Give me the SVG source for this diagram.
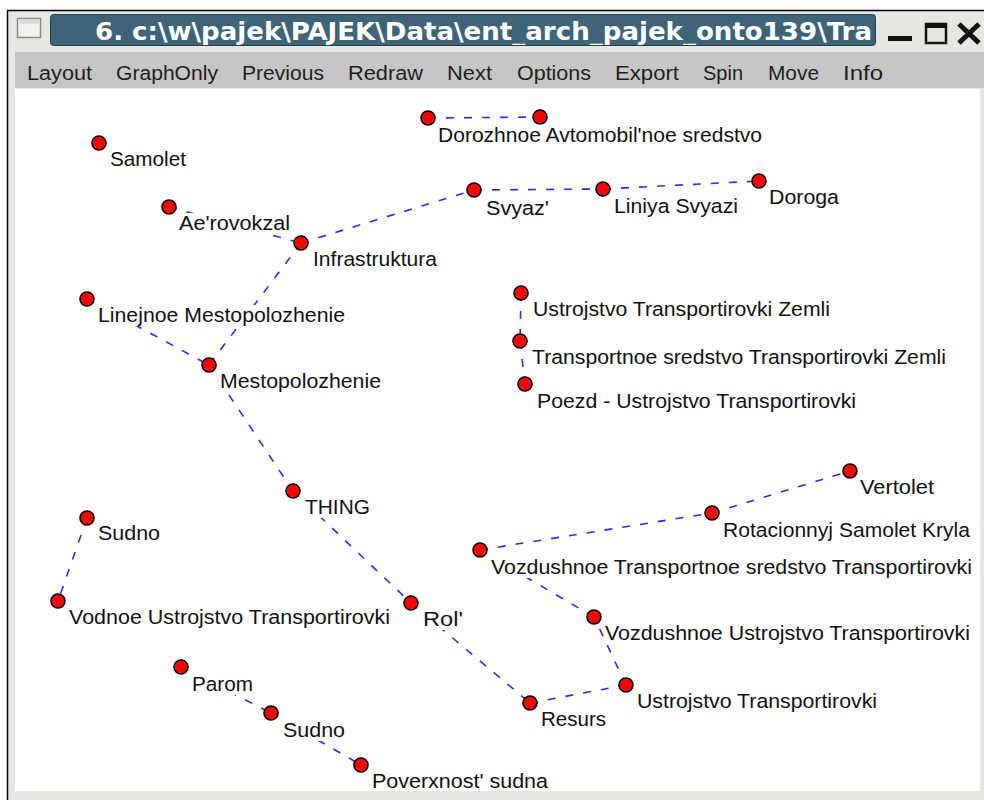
<svg xmlns="http://www.w3.org/2000/svg" width="984" height="800" viewBox="0 0 984 800">
  <style>
    .edge { stroke: #2a2aff; stroke-width: 1.6; stroke-dasharray: 8 10; fill: none; }
    .node { fill: #ff0000; stroke: #000; stroke-width: 1.6; }
    .lbg { fill: #ffffff; }
    .lbl { font-family: "Liberation Sans", Arial, sans-serif; font-size: 20.5px; fill: #111; }
    .menu { font-family: "Liberation Sans", Arial, sans-serif; font-size: 20px; fill: #1e1e1e; }
    .title { font-family: "DejaVu Sans", "Liberation Sans", sans-serif; font-size: 25px; font-weight: bold; fill: #ffffff; }
  </style>
  <defs>
    <clipPath id="titleClip"><rect x="52" y="15" width="822" height="30"/></clipPath>
  </defs>

  <!-- window frame -->
  <rect x="0" y="0" width="984" height="800" fill="#ffffff"/>
  <rect x="8" y="11" width="976" height="789" fill="#e6e6e2"/>
  <line x1="7" y1="10.5" x2="984" y2="10.5" stroke="#000" stroke-width="1.5"/>
  <line x1="7.5" y1="10" x2="7.5" y2="800" stroke="#000" stroke-width="1.5"/>

  <!-- title bar -->
  <g id="titlebar">
    <rect x="17.5" y="18.5" width="23" height="19" fill="#f0f0ee" stroke="#8a8a88" stroke-width="1.5"/>
    <rect x="18.5" y="19.5" width="21" height="4" fill="#d8d8d6"/>
    <rect x="50.5" y="14.5" width="825" height="31" rx="3" fill="#3d6479" stroke="#25404e" stroke-width="1"/>
    <text class="title" x="95" y="40" textLength="777" lengthAdjust="spacingAndGlyphs" clip-path="url(#titleClip)">6. c:\w\pajek\PAJEK\Data\ent_arch_pajek_onto139\Tra</text>
    <rect x="888" y="36" width="24" height="5" fill="#111"/>
    <rect x="926" y="24" width="20" height="19" fill="none" stroke="#111" stroke-width="2.5"/>
    <rect x="926" y="24" width="20" height="4" fill="#111"/>
    <path d="M959 24 L979 43 M979 24 L959 43" stroke="#111" stroke-width="5"/>
  </g>

  <!-- menu bar -->
  <g id="menubar">
    <rect x="15" y="52" width="969" height="36" fill="#c6c6c6"/>
    <text class="menu" x="27" y="80" textLength="65" lengthAdjust="spacingAndGlyphs">Layout</text>
    <text class="menu" x="116" y="80" textLength="102" lengthAdjust="spacingAndGlyphs">GraphOnly</text>
    <text class="menu" x="242" y="80" textLength="82" lengthAdjust="spacingAndGlyphs">Previous</text>
    <text class="menu" x="348" y="80" textLength="75" lengthAdjust="spacingAndGlyphs">Redraw</text>
    <text class="menu" x="447" y="80" textLength="45" lengthAdjust="spacingAndGlyphs">Next</text>
    <text class="menu" x="517" y="80" textLength="74" lengthAdjust="spacingAndGlyphs">Options</text>
    <text class="menu" x="615" y="80" textLength="64" lengthAdjust="spacingAndGlyphs">Export</text>
    <text class="menu" x="703" y="80" textLength="40" lengthAdjust="spacingAndGlyphs">Spin</text>
    <text class="menu" x="768" y="80" textLength="51" lengthAdjust="spacingAndGlyphs">Move</text>
    <text class="menu" x="843" y="80" textLength="40" lengthAdjust="spacingAndGlyphs">Info</text>
  </g>

  <!-- drawing canvas -->
  <rect x="15" y="89" width="965" height="702" fill="#ffffff"/>

  <!-- connectors -->
  <g id="edges">
    <line class="edge" x1="428" y1="118" x2="540" y2="117"/>
    <line class="edge" x1="474" y1="190" x2="603" y2="189"/>
    <line class="edge" x1="603" y1="189" x2="759" y2="181"/>
    <line class="edge" x1="301" y1="243" x2="474" y2="190"/>
    <line class="edge" x1="169" y1="207" x2="301" y2="243"/>
    <line class="edge" x1="301" y1="243" x2="209" y2="365"/>
    <line class="edge" x1="87" y1="299" x2="209" y2="365"/>
    <line class="edge" x1="209" y1="365" x2="293" y2="491"/>
    <line class="edge" x1="293" y1="491" x2="411" y2="603"/>
    <line class="edge" x1="411" y1="603" x2="530" y2="703"/>
    <line class="edge" x1="530" y1="703" x2="626" y2="685"/>
    <line class="edge" x1="626" y1="685" x2="594" y2="617"/>
    <line class="edge" x1="594" y1="617" x2="480" y2="550"/>
    <line class="edge" x1="480" y1="550" x2="712" y2="513"/>
    <line class="edge" x1="712" y1="513" x2="850" y2="471"/>
    <line class="edge" x1="521" y1="293" x2="520" y2="341"/>
    <line class="edge" x1="520" y1="341" x2="525" y2="384"/>
    <line class="edge" x1="87" y1="518" x2="58" y2="601"/>
    <line class="edge" x1="181" y1="667" x2="271" y2="713"/>
    <line class="edge" x1="271" y1="713" x2="361" y2="765"/>
  </g>

  <!-- label backgrounds -->
  <g id="label-backgrounds">
    <rect class="lbg" x="437" y="125" width="327" height="21"/>
    <rect class="lbg" x="109" y="149" width="79" height="21"/>
    <rect class="lbg" x="485" y="198" width="66" height="21"/>
    <rect class="lbg" x="613" y="196" width="127" height="21"/>
    <rect class="lbg" x="768" y="187" width="73" height="21"/>
    <rect class="lbg" x="178" y="213" width="114" height="21"/>
    <rect class="lbg" x="312" y="249" width="127" height="21"/>
    <rect class="lbg" x="97" y="305" width="250" height="21"/>
    <rect class="lbg" x="532" y="299" width="300" height="21"/>
    <rect class="lbg" x="531" y="347" width="417" height="21"/>
    <rect class="lbg" x="219" y="371" width="164" height="21"/>
    <rect class="lbg" x="536" y="391" width="322" height="21"/>
    <rect class="lbg" x="859" y="477" width="77" height="21"/>
    <rect class="lbg" x="304" y="497" width="68" height="21"/>
    <rect class="lbg" x="722" y="520" width="250" height="21"/>
    <rect class="lbg" x="97" y="523" width="65" height="21"/>
    <rect class="lbg" x="490" y="557" width="484" height="21"/>
    <rect class="lbg" x="68" y="607" width="324" height="21"/>
    <rect class="lbg" x="422" y="609" width="47" height="21"/>
    <rect class="lbg" x="604" y="623" width="368" height="21"/>
    <rect class="lbg" x="191" y="674" width="64" height="21"/>
    <rect class="lbg" x="636" y="691" width="243" height="21"/>
    <rect class="lbg" x="540" y="709" width="68" height="21"/>
    <rect class="lbg" x="282" y="720" width="65" height="21"/>
    <rect class="lbg" x="371" y="771" width="179" height="20"/>
  </g>

  <!-- vertices -->
  <g id="n-dorozhnoe"><circle class="node" cx="428" cy="118" r="7"/><text class="lbl" x="438" y="142" textLength="324" lengthAdjust="spacingAndGlyphs">Dorozhnoe Avtomobil'noe sredstvo</text></g>
  <g id="n-avtomobil"><circle class="node" cx="540" cy="117" r="7"/></g>
  <g id="n-samolet"><circle class="node" cx="99" cy="143" r="7"/><text class="lbl" x="110" y="166" textLength="76" lengthAdjust="spacingAndGlyphs">Samolet</text></g>
  <g id="n-svyaz"><circle class="node" cx="474" cy="190" r="7"/><text class="lbl" x="486" y="215" textLength="63" lengthAdjust="spacingAndGlyphs">Svyaz'</text></g>
  <g id="n-liniya-svyazi"><circle class="node" cx="603" cy="189" r="7"/><text class="lbl" x="614" y="213" textLength="124" lengthAdjust="spacingAndGlyphs">Liniya Svyazi</text></g>
  <g id="n-doroga"><circle class="node" cx="759" cy="181" r="7"/><text class="lbl" x="769" y="204" textLength="70" lengthAdjust="spacingAndGlyphs">Doroga</text></g>
  <g id="n-aerovokzal"><circle class="node" cx="169" cy="207" r="7"/><text class="lbl" x="179" y="230" textLength="111" lengthAdjust="spacingAndGlyphs">Ae'rovokzal</text></g>
  <g id="n-infrastruktura"><circle class="node" cx="301" cy="243" r="7"/><text class="lbl" x="313" y="266" textLength="124" lengthAdjust="spacingAndGlyphs">Infrastruktura</text></g>
  <g id="n-linejnoe"><circle class="node" cx="87" cy="299" r="7"/><text class="lbl" x="98" y="322" textLength="247" lengthAdjust="spacingAndGlyphs">Linejnoe Mestopolozhenie</text></g>
  <g id="n-ustr-zemli"><circle class="node" cx="521" cy="293" r="7"/><text class="lbl" x="533" y="316" textLength="297" lengthAdjust="spacingAndGlyphs">Ustrojstvo Transportirovki Zemli</text></g>
  <g id="n-transp-zemli"><circle class="node" cx="520" cy="341" r="7"/><text class="lbl" x="532" y="364" textLength="414" lengthAdjust="spacingAndGlyphs">Transportnoe sredstvo Transportirovki Zemli</text></g>
  <g id="n-mestopolozhenie"><circle class="node" cx="209" cy="365" r="7"/><text class="lbl" x="220" y="388" textLength="161" lengthAdjust="spacingAndGlyphs">Mestopolozhenie</text></g>
  <g id="n-poezd"><circle class="node" cx="525" cy="384" r="7"/><text class="lbl" x="537" y="408" textLength="319" lengthAdjust="spacingAndGlyphs">Poezd - Ustrojstvo Transportirovki</text></g>
  <g id="n-vertolet"><circle class="node" cx="850" cy="471" r="7"/><text class="lbl" x="860" y="494" textLength="74" lengthAdjust="spacingAndGlyphs">Vertolet</text></g>
  <g id="n-thing"><circle class="node" cx="293" cy="491" r="7"/><text class="lbl" x="305" y="514" textLength="65" lengthAdjust="spacingAndGlyphs">THING</text></g>
  <g id="n-rotacionnyj"><circle class="node" cx="712" cy="513" r="7"/><text class="lbl" x="723" y="537" textLength="247" lengthAdjust="spacingAndGlyphs">Rotacionnyj Samolet Kryla</text></g>
  <g id="n-sudno-1"><circle class="node" cx="87" cy="518" r="7"/><text class="lbl" x="98" y="540" textLength="62" lengthAdjust="spacingAndGlyphs">Sudno</text></g>
  <g id="n-vozd-transp"><circle class="node" cx="480" cy="550" r="7"/><text class="lbl" x="491" y="574" textLength="481" lengthAdjust="spacingAndGlyphs">Vozdushnoe Transportnoe sredstvo Transportirovki</text></g>
  <g id="n-vodnoe"><circle class="node" cx="58" cy="601" r="7"/><text class="lbl" x="69" y="624" textLength="321" lengthAdjust="spacingAndGlyphs">Vodnoe Ustrojstvo Transportirovki</text></g>
  <g id="n-rol"><circle class="node" cx="411" cy="603" r="7"/><text class="lbl" x="423" y="626" textLength="40" lengthAdjust="spacingAndGlyphs">Rol'</text></g>
  <g id="n-vozd-ustr"><circle class="node" cx="594" cy="617" r="7"/><text class="lbl" x="605" y="640" textLength="365" lengthAdjust="spacingAndGlyphs">Vozdushnoe Ustrojstvo Transportirovki</text></g>
  <g id="n-parom"><circle class="node" cx="181" cy="667" r="7"/><text class="lbl" x="192" y="691" textLength="61" lengthAdjust="spacingAndGlyphs">Parom</text></g>
  <g id="n-ustr-transp"><circle class="node" cx="626" cy="685" r="7"/><text class="lbl" x="637" y="708" textLength="240" lengthAdjust="spacingAndGlyphs">Ustrojstvo Transportirovki</text></g>
  <g id="n-resurs"><circle class="node" cx="530" cy="703" r="7"/><text class="lbl" x="541" y="726" textLength="65" lengthAdjust="spacingAndGlyphs">Resurs</text></g>
  <g id="n-sudno-2"><circle class="node" cx="271" cy="713" r="7"/><text class="lbl" x="283" y="737" textLength="62" lengthAdjust="spacingAndGlyphs">Sudno</text></g>
  <g id="n-poverxnost"><circle class="node" cx="361" cy="765" r="7"/><text class="lbl" x="372" y="788" textLength="176" lengthAdjust="spacingAndGlyphs">Poverxnost' sudna</text></g>
</svg>
